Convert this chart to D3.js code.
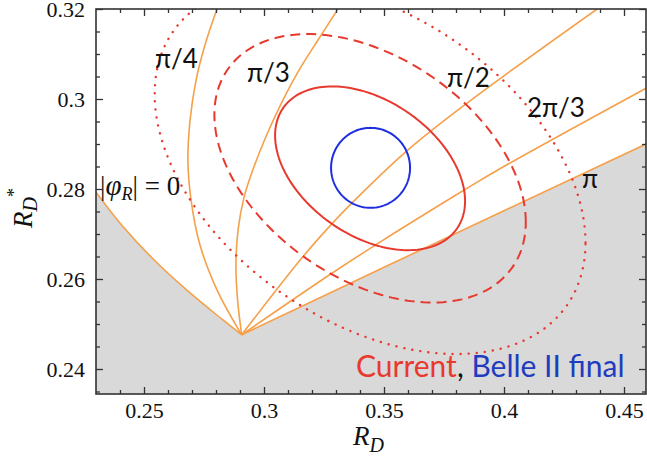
<!DOCTYPE html>
<html>
<head>
<meta charset="utf-8">
<script src="https://cdn.jsdelivr.net/npm/d3@7"></script>
<style>
  body { margin: 0; background: #fff; }
</style>
</head>
<body>
<div id="chart"></div>
<script>
// tick labels
const xTicks = [0.25, 0.3, 0.35, 0.4, 0.45];
const yTicks = [0.24, 0.26, 0.28, 0.3, 0.32];

// contour lines of fixed |phi_R| as (R_D, R_D*)
const phi0 = [[0.23, 0.2793], [0.2413, 0.2716], [0.2554, 0.2636], [0.2692, 0.2569], [0.2829, 0.2509], [0.2907, 0.2476]];
const phiQuarter = [[0.2907, 0.2476], [0.2804, 0.2576], [0.2733, 0.2676], [0.2696, 0.2776], [0.2683, 0.2864],
  [0.2692, 0.2953], [0.2717, 0.3042], [0.2754, 0.3120], [0.2804, 0.3200]];
const phiThird = [[0.2907, 0.2476], [0.2890, 0.2553], [0.2883, 0.2631], [0.2892, 0.2709], [0.2917, 0.2782],
  [0.2958, 0.2849], [0.3008, 0.2916], [0.3071, 0.2989], [0.3146, 0.3064], [0.3225, 0.3131], [0.3308, 0.3200]];
const phiHalf = [[0.2907, 0.2476], [0.3155, 0.2645], [0.3275, 0.2718], [0.3346, 0.2758], [0.3600, 0.2887],
  [0.3846, 0.2991], [0.4388, 0.3200]];
const phiTwoThirds = [[0.2907, 0.2476], [0.3275, 0.2610], [0.3454, 0.2672], [0.3829, 0.2796], [0.3983, 0.2845], [0.4592, 0.3024]];
const phiPi = [[0.2907, 0.2476], [0.3500, 0.2626], [0.4592, 0.2900]];

const curveNames = ["|φR| = 0", "π/4", "π/3", "π/2", "2π/3", "π"];
const curveLabelAt = [[0.2317, 0.2787], [0.2546, 0.3069], [0.2929, 0.3038], [0.3763, 0.3027], [0.4096, 0.2960], [0.4325, 0.2802]];

// measurement (Gaussian) : mean, sigma, correlation
const currentMean = [0.3442, 0.2846];
const currentSigma = [0.0261, 0.0120];
const currentRho = -0.4;
const belleMean = [0.3444, 0.2847];
const belleSigma = [0.01085, 0.00586];
const belleRho = 0;
const chi2Levels = [2.30, 6.18, 11.83];   // 1, 2, 3 sigma for 2 d.o.f.

const W = 647, H = 459;
const L = 96, R = 646, T = 9, B = 394;

const svg = d3.select("#chart").append("svg")
  .attr("width", W).attr("height", H)
  .attr("viewBox", [0, 0, W, H].join(" "));

const x = d3.scaleLinear().domain([0.23, 0.23 + 550 / 2400]).range([L, R]);
const y = d3.scaleLinear().domain([0.32 - 385 / 4500, 0.32]).range([B, T]);

svg.append("clipPath").attr("id", "plot")
  .append("rect").attr("x", L).attr("y", T).attr("width", R - L).attr("height", B - T);

const plot = svg.append("g").attr("clip-path", "url(#plot)");

// excluded (gray) region below the |phi|=0 and |phi|=pi lines
const region = phi0.concat(phiPi.slice(1), [[x.domain()[1], y.domain()[0]], [x.domain()[0], y.domain()[0]]]);
plot.append("path")
  .attr("d", d3.line().x(d => x(d[0])).y(d => y(d[1]))(region) + "Z")
  .attr("fill", "#d9d9d9");

const line = d3.line().x(d => x(d[0])).y(d => y(d[1])).curve(d3.curveCatmullRom);

[phi0, phiQuarter, phiThird, phiHalf, phiTwoThirds, phiPi].forEach(c => {
  plot.append("path").attr("d", line(c))
    .attr("fill", "none").attr("stroke", "#f5a04a").attr("stroke-width", 1.6);
});

// gaussian contour
function ellipse(mean, sig, rho, chi2) {
  const k = Math.sqrt(chi2), s = Math.sqrt(1 - rho * rho);
  return d3.range(0, 2 * Math.PI + 0.001, Math.PI / 90).map(t =>
    [mean[0] + k * sig[0] * Math.cos(t), mean[1] + k * sig[1] * (rho * Math.cos(t) + s * Math.sin(t))]);
}
const closed = d3.line().x(d => x(d[0])).y(d => y(d[1]));

const redDash = [null, "10 6", "0.1 8"];
chi2Levels.forEach((c, i) => {
  plot.append("path").attr("d", closed(ellipse(currentMean, currentSigma, currentRho, c)))
    .attr("fill", "none").attr("stroke", "#e8392e")
    .attr("stroke-width", i == 2 ? 2.4 : 2)
    .attr("stroke-linecap", i == 2 ? "round" : "butt")
    .attr("stroke-dasharray", redDash[i]);
});

plot.append("path").attr("d", closed(ellipse(belleMean, belleSigma, belleRho, chi2Levels[0])))
  .attr("fill", "none").attr("stroke", "#1c2ee0").attr("stroke-width", 2);

// curve labels
const lab = svg.append("g").attr("font-family", "Lato, sans-serif").attr("font-size", 26).attr("fill", "#111");
curveNames.forEach((n, i) => {
  const t = lab.append("text").attr("x", x(curveLabelAt[i][0])).attr("y", y(curveLabelAt[i][1]));
  if (i == 0) {
    t.attr("font-family", "'Liberation Serif', serif").attr("font-size", 27);
    t.append("tspan").text("|");
    t.append("tspan").attr("font-style", "italic").attr("font-size", 29).text("φ");
    t.append("tspan").attr("font-style", "italic").attr("font-size", 18).attr("dy", 5).text("R");
    t.append("tspan").attr("dy", -5).text("| = 0");
  } else {
    t.text(n);
  }
});

// legend
const leg = svg.append("text").attr("x", 356).attr("y", 377)
  .attr("font-family", "Lato, sans-serif").attr("font-size", 30);
leg.append("tspan").attr("fill", "#e8392e").text("Current");
leg.append("tspan").attr("fill", "#111").text(", ");
leg.append("tspan").attr("fill", "#1f3cc0").text("Belle II final");

// axes, ticks inward on all four sides
const xMinor = d3.range(0.24, 0.46, 0.01).filter(v => !xTicks.some(t => Math.abs(t - v) < 1e-6));
const yMinor = d3.range(0.235, 0.3201, 0.005).filter(v => !yTicks.some(t => Math.abs(t - v) < 1e-6));
const fmt = d3.format("");

function drawAxis(m, pos, labels) {
  const sc = (m === d3.axisBottom || m === d3.axisTop) ? x : y;
  const major = sc === x ? xTicks : yTicks;
  const minor = sc === x ? xMinor : yMinor;
  const g1 = svg.append("g").attr("transform", pos)
    .call(m(sc).tickValues(major).tickSize(-7).tickPadding(m === d3.axisLeft ? 11 : 8).tickFormat(labels ? fmt : () => ""));
  const g2 = svg.append("g").attr("transform", pos)
    .call(m(sc).tickValues(minor).tickSize(-4).tickFormat(() => ""));
  [g1, g2].forEach(g => {
    g.select(".domain").remove();
    g.selectAll("line").attr("stroke", "#333").attr("stroke-width", 1.3);
    g.selectAll("text").attr("font-family", "'Liberation Serif', serif").attr("font-size", 22).attr("fill", "#111");
  });
}
drawAxis(d3.axisBottom, `translate(0,${B})`, true);
drawAxis(d3.axisLeft, `translate(${L},0)`, true);
drawAxis(d3.axisTop, `translate(0,${T})`, false);
drawAxis(d3.axisRight, `translate(${R},0)`, false);

svg.append("rect").attr("x", L).attr("y", T).attr("width", R - L).attr("height", B - T)
  .attr("fill", "none").attr("stroke", "#333").attr("stroke-width", 1.6);

// axis titles
const xt = svg.append("text").attr("x", 353).attr("y", 445)
  .attr("font-family", "'Liberation Serif', serif").attr("font-style", "italic").attr("font-size", 27).attr("fill", "#111");
xt.append("tspan").text("R");
xt.append("tspan").attr("dy", 7).attr("font-size", 20).text("D");

const yt = svg.append("text").attr("transform", "translate(32,228) rotate(-90)")
  .attr("font-family", "'Liberation Serif', serif").attr("font-style", "italic").attr("font-size", 27).attr("fill", "#111");
yt.append("tspan").text("R");
yt.append("tspan").attr("dy", 5).attr("font-size", 20).text("D");
yt.append("tspan").attr("dy", -17).attr("font-size", 18).attr("font-style", "normal").text("*");
</script>
</body>
</html>
